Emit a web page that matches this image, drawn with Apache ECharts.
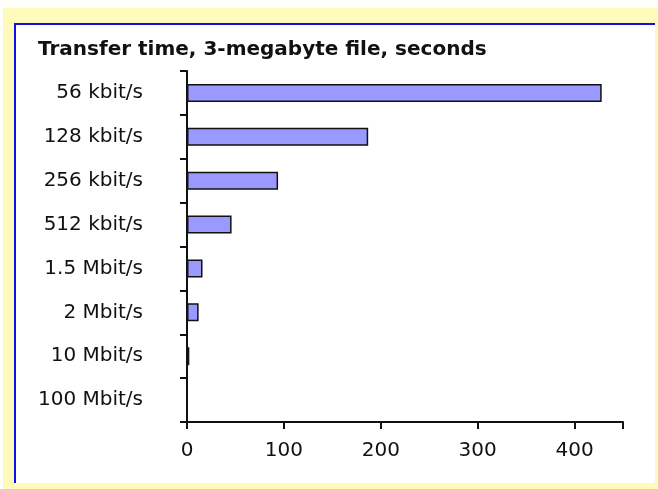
<!DOCTYPE html>
<html>
<head>
<meta charset="utf-8">
<script src="https://cdn.jsdelivr.net/npm/echarts@6/dist/echarts.min.js"></script>
<style>
	html, body { margin: 0; padding: 0; width: 658px; height: 489px; overflow: hidden; background: #fffcbb; }
	#topStrip { position: absolute; left: 0; top: 0; width: 658px; height: 8px; background: #fefefa; }
	#leftStrip { position: absolute; left: 0; top: 0; width: 3px; height: 489px; background: #fefefa; }
	#panel { position: absolute; left: 14px; top: 23px; width: 639px; height: 458px;
		background: #fff; border-top: 2px solid #1010e0; border-left: 2px solid #1010e0; }
	#chart { position: absolute; left: 0; top: 0; width: 658px; height: 489px; }
</style>
</head>
<body>
<div id="topStrip"></div>
<div id="leftStrip"></div>
<div id="panel"></div>
<div id="chart"></div>
<script>
const TITLE = 'Transfer time, 3-megabyte file, seconds';
const speeds = ['56 kbit/s', '128 kbit/s', '256 kbit/s', '512 kbit/s',
	'1.5 Mbit/s', '2 Mbit/s', '10 Mbit/s', '100 Mbit/s'];
const seconds = [428, 187, 94, 46, 16, 12, 2.4, 0.2];
const ticks = [0, 100, 200, 300, 400];

const FONT = 'DejaVu Sans';
const TEXT = '#111';

let chart = echarts.init(document.getElementById('chart'), null, { renderer: 'canvas' });

chart.setOption({
	backgroundColor: 'transparent',
	animation: false,
	title: {
		text: TITLE, left: 33, top: 35,
		textStyle: { fontFamily: FONT, fontSize: 20, fontWeight: 'bold', color: TEXT }
	},
	grid: { left: 187, top: 71, right: 35, bottom: 67, containLabel: false },
	xAxis: {
		type: 'value', min: 0, max: 450, interval: 100,
		splitLine: { show: false },
		axisLine: { show: true, lineStyle: { color: '#111', width: 2 } },
		axisTick: { show: true, length: 7, lineStyle: { color: '#111', width: 2 } },
		axisLabel: {
			margin: 19, fontFamily: FONT, fontSize: 20, color: TEXT,
			formatter: v => ticks.includes(v) ? String(v) : ''
		}
	},
	yAxis: {
		type: 'category', inverse: true, data: speeds, z: 5,
		axisLine: { show: true, lineStyle: { color: '#111', width: 2 } },
		axisTick: { show: true, length: 7, lineStyle: { color: '#111', width: 2 } },
		axisLabel: { margin: 44, fontFamily: FONT, fontSize: 20, color: TEXT }
	},
	series: [{
		type: 'bar',
		data: seconds,
		barWidth: 18,
		itemStyle: { color: '#9999ff', borderColor: '#111', borderWidth: 1.5 }
	}]
});
</script>
</body>
</html>
